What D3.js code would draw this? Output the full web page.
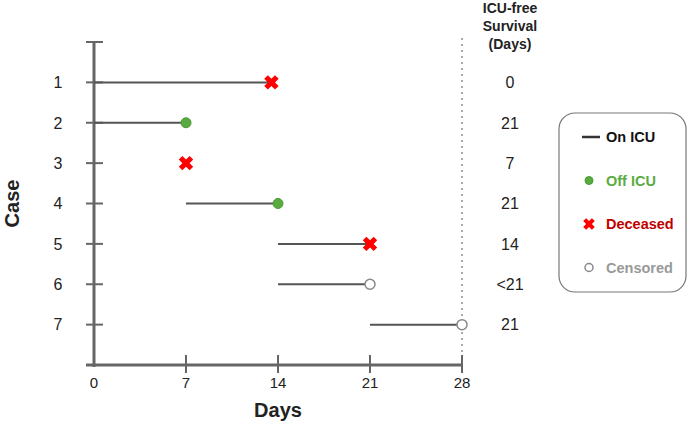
<!DOCTYPE html>
<html>
<head>
<meta charset="utf-8">
<script src="https://cdn.jsdelivr.net/npm/d3@7"></script>
<style>
  body { margin: 0; background: #fff; }
  svg { font-family: Arial, "Liberation Sans", sans-serif; }
</style>
</head>
<body>
<div id="chart"></div>
<script>
  const width = 689, height = 424;

  // data
  const cases = [1, 2, 3, 4, 5, 6, 7];
  const icuStart = [0, 0, null, 7, 14, 14, 21];
  const icuEnd = [13.5, 7, 7, 14, 21, 21, 28];
  const outcome = ["deceased", "off", "deceased", "off", "deceased", "censored", "censored"];
  const survival = ["0", "21", "7", "21", "14", "<21", "21"];
  const dayTicks = [0, 7, 14, 21, 28];
  const legendItems = [
    { key: "on", label: "On ICU", color: "#111" },
    { key: "off", label: "Off ICU", color: "#5aab3f" },
    { key: "deceased", label: "Deceased", color: "#c00000" },
    { key: "censored", label: "Censored", color: "#999" }
  ];

  const svg = d3.select('#chart')
    .append('svg')
    .attr('width', width)
    .attr('height', height);

  const x = d3.scaleLinear().domain([0, 28]).range([94, 462]);
  const y = d3.scaleLinear().domain([0, 8]).range([42, 365]);
  const axisColor = '#666';

  // dotted 28-day line
  svg.append('line')
    .attr('x1', x(28)).attr('x2', x(28))
    .attr('y1', 38).attr('y2', y(8))
    .attr('stroke', '#aaa').attr('stroke-width', 2)
    .attr('stroke-dasharray', '2,4');

  // y axis
  const yAxis = svg.append('g');
  yAxis.append('line')
    .attr('x1', x(0)).attr('x2', x(0))
    .attr('y1', y(0)).attr('y2', y(8) + 2)
    .attr('stroke', axisColor).attr('stroke-width', 3);
  yAxis.selectAll('.ytick')
    .data([0].concat(cases))
    .join('line')
    .attr('x1', x(0) - 8).attr('x2', x(0) + 9)
    .attr('y1', d => y(d)).attr('y2', d => y(d))
    .attr('stroke', axisColor).attr('stroke-width', 2);
  yAxis.selectAll('text')
    .data(cases)
    .join('text')
    .attr('x', 58).attr('y', d => y(d))
    .attr('dy', '0.36em')
    .attr('text-anchor', 'middle')
    .attr('font-size', 16).attr('fill', '#222')
    .text(d => d);

  // x axis
  const xAxis = svg.append('g');
  xAxis.append('line')
    .attr('x1', x(0) - 8).attr('x2', x(28))
    .attr('y1', y(8)).attr('y2', y(8))
    .attr('stroke', axisColor).attr('stroke-width', 3);
  xAxis.selectAll('.xtick')
    .data(dayTicks.slice(1))
    .join('line')
    .attr('x1', d => x(d)).attr('x2', d => x(d))
    .attr('y1', y(8) - 10).attr('y2', y(8) + 8)
    .attr('stroke', axisColor).attr('stroke-width', 2);
  xAxis.selectAll('text')
    .data(dayTicks)
    .join('text')
    .attr('x', d => x(d)).attr('y', 383)
    .attr('dy', '0.36em')
    .attr('text-anchor', 'middle')
    .attr('font-size', 15).attr('fill', '#222')
    .text(d => d);

  // axis titles
  svg.append('text')
    .attr('x', x(14)).attr('y', 410)
    .attr('dy', '0.36em')
    .attr('text-anchor', 'middle')
    .attr('font-size', 20).attr('font-weight', 'bold').attr('fill', '#222')
    .text('Days');
  svg.append('text')
    .attr('transform', `translate(12,${y(4)}) rotate(-90)`)
    .attr('dy', '0.36em')
    .attr('text-anchor', 'middle')
    .attr('font-size', 20).attr('font-weight', 'bold').attr('fill', '#222')
    .text('Case');

  // ICU stays
  const rows = cases.map((c, i) => ({ c, s: icuStart[i], e: icuEnd[i], o: outcome[i] }));
  svg.append('g').selectAll('line')
    .data(rows.filter(d => d.s !== null))
    .join('line')
    .attr('x1', d => x(d.s)).attr('x2', d => x(d.e))
    .attr('y1', d => y(d.c)).attr('y2', d => y(d.c))
    .attr('stroke', '#555').attr('stroke-width', 2);

  const cross = d3.symbol().type(d3.symbolCross).size(130)();
  function drawMarker(g, kind, cx, cy, s) {
    s = s || 1;
    if (kind === 'off') {
      g.append('circle').attr('cx', cx).attr('cy', cy).attr('r', 5 * s)
        .attr('fill', '#5aab3f').attr('stroke', '#4a9a35').attr('stroke-width', 1);
    } else if (kind === 'deceased') {
      g.append('path').attr('d', cross)
        .attr('transform', `translate(${cx},${cy}) rotate(45) scale(${s})`)
        .attr('fill', '#f00');
    } else if (kind === 'censored') {
      g.append('circle').attr('cx', cx).attr('cy', cy).attr('r', 5 * s)
        .attr('fill', '#fff').attr('stroke', '#888').attr('stroke-width', 1.5);
    } else {
      g.append('line').attr('x1', cx - 9).attr('x2', cx + 9)
        .attr('y1', cy).attr('y2', cy)
        .attr('stroke', '#333').attr('stroke-width', 2.5);
    }
  }
  const marks = svg.append('g');
  rows.forEach(d => drawMarker(marks, d.o, x(d.e), y(d.c)));

  // survival column
  const col = svg.append('g').attr('font-size', 16).attr('fill', '#222');
  ['ICU-free', 'Survival', '(Days)'].forEach((t, i) => {
    col.append('text')
      .attr('x', 510).attr('y', 8 + i * 18)
      .attr('dy', '0.36em').attr('text-anchor', 'middle')
      .attr('font-size', 14).attr('font-weight', 'bold')
      .text(t);
  });
  col.selectAll('.surv')
    .data(cases)
    .join('text')
    .attr('x', 510).attr('y', d => y(d))
    .attr('dy', '0.36em').attr('text-anchor', 'middle')
    .text((d, i) => survival[i]);

  // legend
  const lg = svg.append('g');
  lg.append('rect')
    .attr('x', 559).attr('y', 113).attr('width', 127).attr('height', 179)
    .attr('rx', 16).attr('fill', '#fff')
    .attr('stroke', '#777').attr('stroke-width', 1.2);
  legendItems.forEach((it, i) => {
    const cy = 137 + i * 43.5;
    drawMarker(lg, it.key, it.key === 'on' ? 591 : 589, cy, 0.8);
    lg.append('text')
      .attr('x', 606).attr('y', cy)
      .attr('dy', '0.36em')
      .attr('font-size', 14.5).attr('font-weight', 'bold')
      .attr('fill', it.color)
      .text(it.label);
  });
</script>
</body>
</html>
